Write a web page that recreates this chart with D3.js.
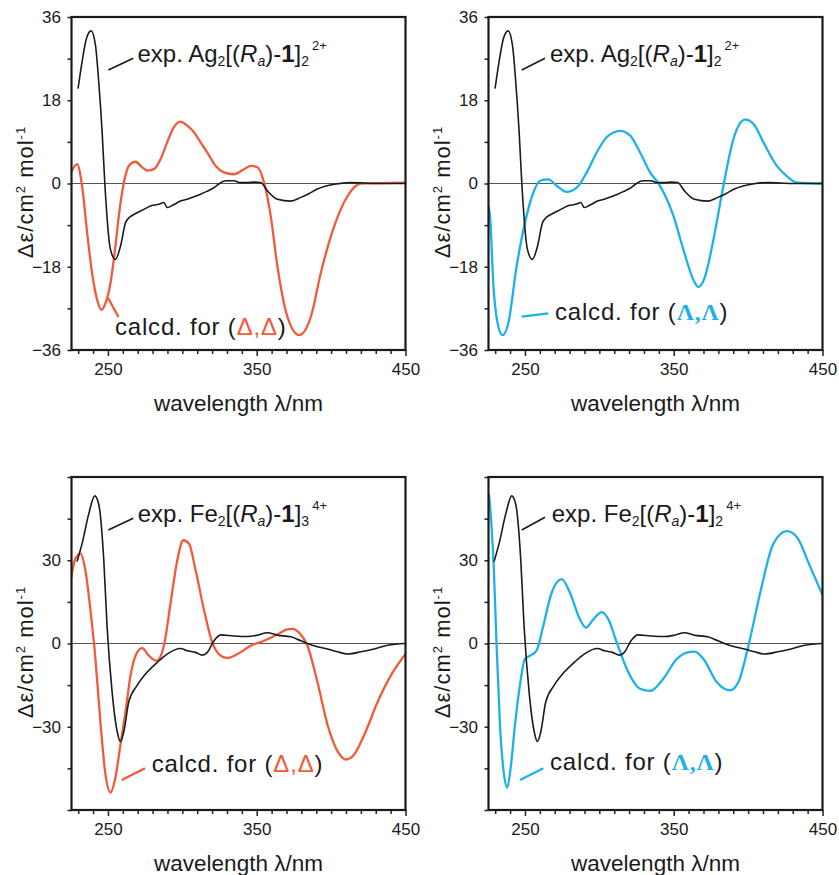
<!DOCTYPE html>
<html>
<head>
<meta charset="utf-8">
<script src="https://cdn.jsdelivr.net/npm/d3@7"></script>
<style>
  body { margin: 0; background: #fff; }
  text { font-family: "Liberation Sans", Arial, sans-serif; fill: #1a1a1a; }
</style>
</head>
<body>
<svg id="fig" width="839" height="875"></svg>
<script>
// ---- data (wavelength nm, delta epsilon) ----
const expAg = [[229.9,20.5],[232.6,26.3],[235.5,31.3],[238.7,33.0],[241.6,29.9],[243.8,22.0],[246.1,11.1],[247.9,0],
  [251.7,-14.3],[255,-16.4],[258.4,-13.6],[261.8,-8.5],[264.5,-7.3],[267.4,-6.7],[274.1,-5.6],[279,-4.8],[284.2,-4.5],
  [287.6,-4.1],[289.8,-5.2],[294,-4.6],[298.8,-3.8],[303.3,-3.4],[307.5,-2.9],[312.3,-2.3],[316.5,-1.7],[321.3,-0.9],[325,0],
  [329.1,0.6],[334.7,0.6],[339,0.2],[343.7,0.2],[348,0.3],[352.7,0.2],[357.2,-1.6],[363.9,-3.4],[372.9,-3.8],
  [379.6,-3.0],[385,-2.2],[390.8,-1.2],[396,-0.6],[402.1,-0.15],[413.3,0.2],[430,0],[450,0]];
const calcAgDelta = [[225.2,2.4],[229.2,4.2],[232.6,-0.5],[236,-10.6],[239.3,-19.3],[242.7,-25.1],[245.6,-27.3],[248.3,-25.9],
  [251.7,-21.5],[255,-13.6],[257.3,-7],[260.7,0.2],[264,3.8],[268.5,4.7],[273,3.5],[276.4,2.8],[280.9,3.1],[285.4,5.3],
  [289.8,8.9],[294.3,12.2],[298.8,13.4],[303.3,12.5],[307.8,11.1],[312.3,8.9],[316.8,6.7],[322.4,3.8],[328,2.4],
  [334.7,2.0],[341.5,3.1],[346,3.8],[350.5,3.5],[354.9,0.2],[359.4,-7],[363.9,-17.9],[370.6,-28.8],[378.5,-32.8],
  [386.4,-28.8],[393.1,-19.3],[402.1,-9.2],[411.1,-2.7],[420,0],[435,0.1],[450,0.2]];
const calcAgLambda = [[225.5,-5.0],[226.5,-7.0],[228.7,-21.5],[232.1,-30.9],[235,-32.8],[238.8,-30.2],[244.4,-17.9],[251.1,-7],
  [255.6,-2.0],[260.1,0.6],[265.7,0.9],[271.3,-0.5],[278,-1.8],[284.8,-0.9],[291.5,2.4],[298.2,6.7],[304.9,10],
  [313.9,11.4],[320.6,10.4],[327.4,6.7],[334.1,2.4],[340.8,-0.5],[349.8,-7],[356.5,-14.3],[363.2,-20.8],[366.6,-22.4],
  [371.1,-20.1],[376.7,-12.1],[383.4,-0.5],[390.1,9.6],[398,13.8],[403.6,12.9],[410.3,8.9],[419.3,3.8],[426,1.6],
  [432.7,0.2],[450,0]];
const expFe = [[229.2,29.5],[232.6,36],[237.1,46.7],[241.1,53.2],[243.8,50.2],[247.2,30],[249.4,6.3],[252.8,-17.5],
  [256.2,-31.7],[258.4,-35.3],[260.7,-31.7],[264,-21],[269.6,-15.1],[276.4,-10.3],[283.1,-6.8],[289.8,-3.8],
  [298.8,-1.8],[303.3,-2.6],[308.9,-3.2],[313.4,-4.2],[316.8,-3.2],[321.3,1],[325.8,3.1],[334.7,2.7],[343.7,2.5],
  [350.5,3],[357.2,3.9],[363.9,3],[372.9,2.4],[379.6,1],[388.6,-0.8],[397.6,-2],[404.3,-3],[411,-3.8],[420,-3],
  [429,-2],[438,-0.6],[450,0]];
const calcFeDelta = [[225.2,23.5],[228.1,30.6],[231.5,32.4],[234.8,26.5],[238.2,12.2],[241.6,-5.6],[244.9,-28.1],
  [248.3,-47.1],[251.7,-53.7],[255,-48.3],[258.4,-36.5],[261.8,-24.6],[265.2,-11.5],[269.6,-3.2],[273,-1.7],
  [277.5,-4.4],[282.7,-6.2],[287.6,-0.8],[292.1,14.6],[296.6,30],[300.6,37.2],[304.4,36],[308.9,26.5],[314.5,12.2],
  [320.1,0.4],[325.8,-4.4],[330.2,-5.2],[337,-3.8],[346,-0.8],[354.9,1],[363.9,3.3],[370.6,5.1],[374,5.3],
  [378.5,3.9],[384.1,-0.8],[390.8,-13.9],[397.6,-29.3],[404.3,-38.8],[409.9,-41.8],[415.5,-40],[422.3,-32.9],
  [431.3,-21],[440.2,-11.5],[450,-3.8]];
const calcFeLambda = [[225.8,53.8],[227.6,41.9],[229.1,26.5],[230.9,0],[233.2,-29.3],[235.9,-47.1],[238.1,-51.9],
  [240.4,-44.8],[243.3,-29.3],[246.6,-15.1],[250,-5.6],[253.4,-4.4],[257.8,-2.6],[262.3,6.3],[267.9,18.2],
  [274.7,23.2],[280.3,18.2],[287,8.7],[291,5.7],[296,8.7],[301.6,11.3],[306.1,8.7],[311.7,0.4],[318.4,-9.1],
  [327.4,-16.3],[334.1,-17.1],[343,-12.7],[352,-5.6],[361,-3],[364.3,-2.9],[370,-5.6],[378.9,-13.9],[387.9,-16.9],
  [393.5,-13.9],[400.2,-0.8],[408.1,18.2],[417,36],[426,40.5],[432.7,38.4],[441.7,27.7],[450,17.5]];

// ---- axis tick values ----
const xDomain = [225.5, 450];
const xTicks = d3.range(230, 451, 10);
const xLabels = [250, 350, 450];
const yTicksAg = d3.range(-36, 37, 9);
const yLabelsAg = [-36, -18, 0, 18, 36];
const yTicksFe = d3.range(-60, 61, 15);
const yLabelsFe = [-30, 0, 30];

const RED = '#f15a3b';
const BLUE = '#1db1e7';
const W = 334, H = 333;

const svg = d3.select('#fig');

// rich text helper (sub/superscripts via dy)
function rich(g, x, y, parts, size) {
  const t = g.append('text').attr('x', x).attr('y', y).attr('font-size', size);
  let cur = 0;
  parts.forEach(p => {
    const sh = p.shift || 0;
    const ts = t.append('tspan').attr('dy', sh - cur).text(p.t);
    cur = sh;
    if (p.dx) ts.attr('dx', p.dx);
    if (p.size) ts.attr('font-size', p.size);
    if (p.it) ts.attr('font-style', 'italic');
    if (p.bold) ts.attr('font-weight', 'bold');
    if (p.fill) ts.style('fill', p.fill);
    if (p.font) ts.style('font-family', p.font);
  });
  return t;
}

function expParts(metal, n, charge) {
  return [
    {t: 'exp. ' + metal}, {t: '2', shift: 4, size: 14}, {t: '[('},
    {t: 'R', it: true}, {t: 'a', it: true, shift: 4, size: 14}, {t: ')-'},
    {t: '1', bold: true}, {t: ']'}, {t: n, shift: 4, size: 14},
    {t: charge, shift: -12, size: 13, dx: 3}
  ];
}

const panels = [
  {ox: 71.5, oy: 17, yd: [-36, 36], yt: yTicksAg, yl: yLabelsAg, exp: expAg, calc: calcAgDelta, col: RED,
   expTxt: expParts('Ag', '2', '2+'), sym: 'Δ,Δ', serif: false,
   expLead: [[36.8, 53], [61.8, 41.3]], expPos: [66, 44.7],
   calcLead: [[36.8, 281.3], [47, 300]], calcPos: [43.5, 318]},
  {ox: 488.5, oy: 17, yd: [-36, 36], yt: yTicksAg, yl: yLabelsAg, exp: expAg, calc: calcAgLambda, col: BLUE,
   expTxt: expParts('Ag', '2', '2+'), sym: 'Λ,Λ', serif: true,
   expLead: [[33.2, 53], [56.5, 41.3]], expPos: [61.5, 44.7],
   calcLead: [[33.2, 299.7], [59.8, 296.3]], calcPos: [66.5, 303]},
  {ox: 71.5, oy: 477, yd: [-60, 60], yt: yTicksFe, yl: yLabelsFe, exp: expFe, calc: calcFeDelta, col: RED,
   expTxt: expParts('Fe', '3', '4+'), sym: 'Δ,Δ', serif: false,
   expLead: [[36.8, 53], [61.8, 41.3]], expPos: [66.2, 44.7],
   calcLead: [[50.2, 303], [73.5, 291.3]], calcPos: [80.2, 294.7]},
  {ox: 488.5, oy: 477, yd: [-60, 60], yt: yTicksFe, yl: yLabelsFe, exp: expFe, calc: calcFeLambda, col: BLUE,
   expTxt: expParts('Fe', '2', '4+'), sym: 'Λ,Λ', serif: true,
   expLead: [[33.2, 53], [56.5, 40.3]], expPos: [63.2, 44.7],
   calcLead: [[31.5, 303], [54.8, 291.3]], calcPos: [61.5, 293]}
];

panels.forEach((p, i) => {
  const g = svg.append('g').attr('transform', `translate(${p.ox},${p.oy})`);
  const x = d3.scaleLinear().domain(xDomain).range([0, W]);
  const y = d3.scaleLinear().domain(p.yd).range([H, 0]);

  // x axis
  const xa = g.append('g').attr('transform', `translate(0,${H})`)
    .call(d3.axisBottom(x).tickValues(xTicks).tickSizeInner(4).tickSizeOuter(0).tickPadding(9)
      .tickFormat(d => xLabels.includes(d) ? d : ''));
  xa.select('.domain').remove();
  xa.selectAll('line').attr('stroke', '#222').attr('stroke-width', 1.5)
    .filter(d => xLabels.includes(d)).attr('y2', 6);
  xa.selectAll('text').attr('font-size', 17).style('fill', '#1a1a1a').attr('font-family', null);

  // y axis
  const ya = g.append('g')
    .call(d3.axisLeft(y).tickValues(p.yt).tickSizeInner(4).tickSizeOuter(0).tickPadding(6.5)
      .tickFormat(d => p.yl.includes(d) ? d3.format('d')(d) : ''));
  ya.select('.domain').remove();
  ya.selectAll('line').attr('stroke', '#222').attr('stroke-width', 1.5);
  ya.selectAll('text').attr('font-size', 17).style('fill', '#1a1a1a').attr('font-family', null);

  // zero line
  g.append('line').attr('x1', 0).attr('x2', W).attr('y1', y(0)).attr('y2', y(0))
    .attr('stroke', '#555').attr('stroke-width', 1.2);

  // curves
  const clipId = 'clip' + i;
  g.append('clipPath').attr('id', clipId).append('rect').attr('width', W).attr('height', H);
  const line = d3.line().x(d => x(d[0])).y(d => y(d[1])).curve(d3.curveMonotoneX);
  const cg = g.append('g').attr('clip-path', `url(#${clipId})`);
  cg.append('path').datum(p.calc).attr('d', line).attr('fill', 'none')
    .attr('stroke', p.col).attr('stroke-width', 2.3).attr('stroke-linejoin', 'round');
  cg.append('path').datum(p.exp).attr('d', line).attr('fill', 'none')
    .attr('stroke', '#1a1a1a').attr('stroke-width', 1.6).attr('stroke-linejoin', 'round');

  // frame
  g.append('rect').attr('width', W).attr('height', H).attr('fill', 'none')
    .attr('stroke', '#1a1a1a').attr('stroke-width', 2.2);

  // annotations
  g.append('line').attr('x1', p.expLead[0][0]).attr('y1', p.expLead[0][1])
    .attr('x2', p.expLead[1][0]).attr('y2', p.expLead[1][1]).attr('stroke', '#1a1a1a').attr('stroke-width', 1.6);
  rich(g, p.expPos[0], p.expPos[1], p.expTxt, 24);

  g.append('line').attr('x1', p.calcLead[0][0]).attr('y1', p.calcLead[0][1])
    .attr('x2', p.calcLead[1][0]).attr('y2', p.calcLead[1][1]).attr('stroke', p.col).attr('stroke-width', 2.3);
  rich(g, p.calcPos[0], p.calcPos[1], [
    {t: 'calcd. for ('},
    {t: p.sym, fill: p.col, font: p.serif ? '"Liberation Serif", "Times New Roman", serif' : null, bold: p.serif},
    {t: ')'}
  ], 24).attr('letter-spacing', 0.8);

  // axis titles
  g.append('text').attr('x', W / 2).attr('y', H + 61).attr('text-anchor', 'middle').attr('font-size', 22.5)
    .text('wavelength λ/nm');
  rich(g.append('g').attr('transform', `translate(-39,${H / 2 + 8.5}) rotate(-90)`), 0, 0, [
    {t: 'Δε/cm'}, {t: '2', shift: -8, size: 13}, {t: ' mol', shift: 0}, {t: '-1', shift: -8, size: 13}
  ], 22).attr('text-anchor', 'middle').attr('letter-spacing', 1);
});
</script>
</body>
</html>
